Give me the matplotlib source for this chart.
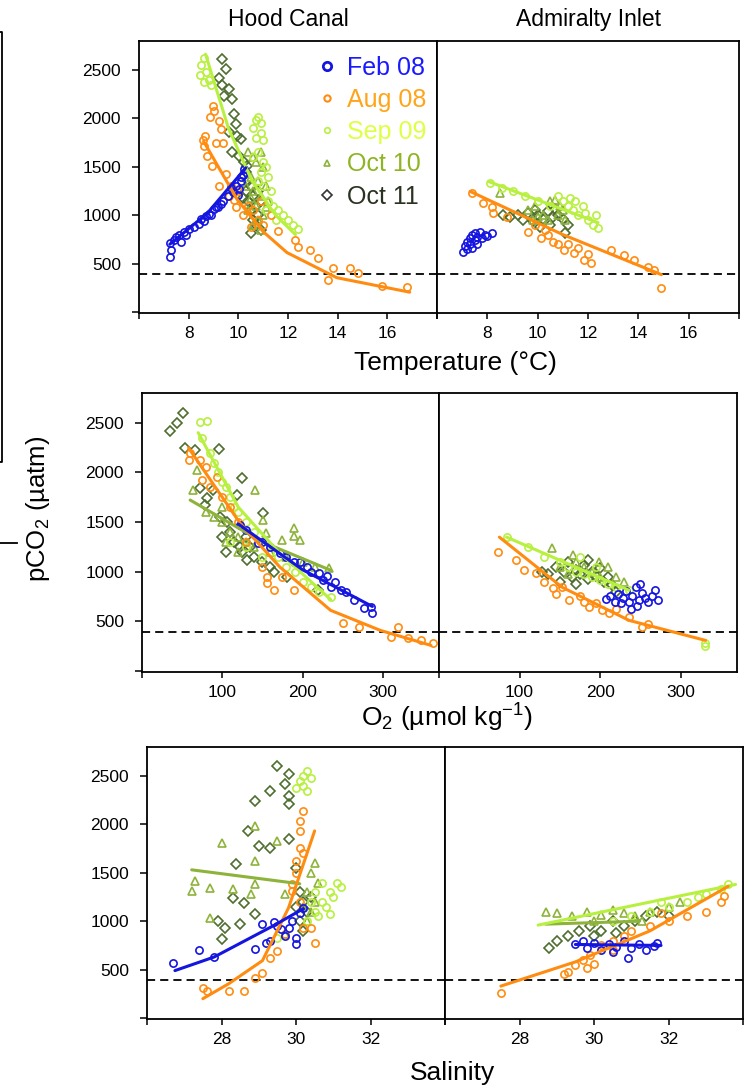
import numpy as np
import matplotlib
matplotlib.use("Agg")
import matplotlib.pyplot as plt
from matplotlib.lines import Line2D

plt.rcParams['font.family'] = ['Liberation Sans', 'DejaVu Sans']
plt.rcParams['mathtext.fontset'] = 'custom'
plt.rcParams['mathtext.rm'] = 'Liberation Sans'
plt.rcParams['mathtext.it'] = 'Liberation Sans:italic'
plt.rcParams['mathtext.default'] = 'regular'

# ---------------- series ----------------
series_names = ["Feb 08", "Aug 08", "Sep 09", "Oct 10", "Oct 11"]
series_markers = ["o", "o", "o", "^", "D"]
series_colors = ["#1515E0", "#FF8C10", "#B8F040", "#8DB33A", "#4E6E30"]
legend_text_colors = ["#1a1aff", "#FFA51A", "#DDFF45", "#8FB424", "#2A3322"]
atm_pco2 = 390

# ---------------- Hood Canal, Temperature ----------------
hc_t_feb = [(7.24,572),(7.3,645),(7.24,717),(7.4,740),(7.5,770),(7.6,800),(7.7,720),(7.8,830),(7.9,800),
            (8.0,860),(8.2,880),(8.4,910),(8.5,960),(8.6,940),(8.7,990),(8.8,1010),(8.9,1000),(9.0,1060),
            (9.1,1090),(9.2,1080),(9.3,1120),(9.4,1150),(9.6,1200),(9.7,1280),(9.8,1240),(9.9,1300),
            (10.0,1210),(10.1,1350),(10.2,1420),(10.24,1473),(10.1,1390),(10.04,1266)]
hc_t_aug = [(8.6,1712),(8.56,1780),(8.64,1817),(8.72,1610),(8.84,2010),(8.96,2125),(9.0,2080),(8.92,1505),
            (9.12,1748),(9.24,1971),(9.32,1888),(9.24,1298),(9.4,1750),(9.5,1430),(9.64,1194),(9.84,1160),
            (9.7,1300),(9.9,1080),(10.0,1250),(10.2,1000),(10.4,1100),(10.6,1050),(10.8,950),(10.5,880),
            (11.0,895),(11.3,1000),(11.6,832),(12.3,739),(12.4,677),(12.9,645),(13.2,562),(13.6,335),
            (13.8,459),(14.5,459),(14.8,407),(15.8,272),(16.8,262),(10.9,1150)]
hc_t_sep = [(8.45,2450),(8.5,2550),(8.6,2620),(8.7,2480),(8.8,2400),(8.9,2350),(8.6,2380),(10.6,1900),
            (10.7,1980),(10.8,2020),(10.9,1950),(10.7,1800),(10.9,1850),(11.0,1780),(10.6,1600),(10.8,1650),
            (11.0,1550),(11.1,1500),(10.9,1450),(11.2,1400),(11.0,1300),(11.3,1250),(11.2,1150),(11.4,1100),
            (11.6,1050),(11.8,1000),(12.0,950),(12.2,900),(12.4,860),(11.5,950),(11.1,1050),(10.8,1350)]
hc_t_oct10 = [(10.4,1650),(10.6,1600),(10.7,1550),(10.9,1650),(11.0,1500),(10.5,1400),(10.8,1350),(11.1,1300),
              (10.6,1250),(10.9,1200),(11.2,1150),(10.7,1100),(10.4,1050),(11.0,1000),(10.8,950),(10.6,900),
              (10.9,850),(11.1,1080),(10.5,1180),(10.3,1300)]
hc_t_oct11 = [(9.36,2612),(9.52,2510),(9.24,2422),(9.36,2350),(9.64,2300),(9.44,2230),(9.76,2198),(9.84,2043),
              (9.64,1855),(9.92,1939),(9.96,1817),(10.12,1785),(9.76,1650),(10.04,1610),(10.24,1546),
              (10.36,1505),(10.32,1443),(10.4,1350),(10.5,1300),(10.3,1250),(10.6,1200),(10.4,1150),
              (10.7,1100),(10.5,1050),(10.8,1000),(10.6,950),(10.7,900),(10.9,850),(10.5,820),(10.8,1250),
              (10.2,1180),(10.9,1150)]
hc_t_fit_feb = [(7.24,700),(8.75,1020),(10.3,1490)]
hc_t_fit_aug = [(8.6,1764),(9.96,1160),(11.0,830),(11.96,614),(13.96,355),(16.9,205)]
hc_t_fit_sep = [(8.68,2663),(9.6,1900),(10.56,1350),(11.5,1000),(12.3,800)]

# ---------------- Admiralty Inlet, Temperature ----------------
ai_t_feb = [(7.04,625),(7.1,680),(7.2,720),(7.3,700),(7.3,760),(7.4,800),(7.5,740),(7.5,820),(7.6,780),
            (7.7,830),(7.8,760),(7.9,800),(8.0,790),(8.2,820),(7.2,650),(7.6,700),(7.4,660)]
ai_t_aug = [(7.4,1233),(7.84,1131),(8.24,1027),(8.2,1090),(8.8,986),(9.6,831),(10.12,769),(10.4,800),
            (10.6,720),(10.8,700),(11.04,645),(11.2,700),(11.44,614),(11.6,660),(11.84,541),(12.12,510),
            (12.0,600),(12.92,645),(13.44,593),(13.84,541),(14.4,469),(14.64,438),(14.92,252),(9.9,900),(10.3,850)]
ai_t_sep = [(8.1,1330),(8.6,1280),(9.0,1250),(9.5,1200),(10.0,1150),(10.5,1100),(10.8,1200),(11.0,1150),
            (11.2,1100),(11.4,1050),(11.6,1000),(11.8,1100),(12.0,950),(12.2,900),(12.4,870),(11.5,1150),
            (11.9,1020),(12.3,1000),(11.3,1180)]
ai_t_oct10 = [(8.52,1233),(9.6,1050),(9.9,1100),(10.2,1000),(10.5,1150),(10.7,1160),(10.9,1100),(11.0,1050),
              (10.8,1000),(10.4,950),(11.1,950),(10.0,980),(9.8,950)]
ai_t_oct11 = [(8.64,1000),(8.9,980),(9.2,1000),(9.4,950),(9.6,1020),(9.8,940),(10.0,1000),(10.2,960),
              (10.4,1040),(10.6,980),(10.8,1000),(11.0,960),(11.2,900),(10.5,900),(10.1,880),(9.9,1050),
              (11.1,820),(10.7,1060)]
ai_t_fit_aug = [(7.32,1246),(11.0,800),(14.92,386)]
ai_t_fit_sep = [(8.04,1349),(12.4,924)]

# ---------------- Hood Canal, O2 ----------------
hc_o_feb = [(122,1470),(130,1420),(144,1288),(150,1300),(160,1247),(172,1187),(180,1150),(189,1096),(197,1096),
            (205,1050),(210,995),(220,985),(226,914),(235,843),(240,900),(248,813),(254,793),(264,712),
            (276,631),(287,581),(285,640),(230,960)]
hc_o_aug = [(58,2126),(72,2126),(75,1924),(80,2050),(93,1954),(110,1651),(100,1750),(120,1500),(130,1300),
            (150,1050),(156,944),(156,884),(164,813),(189,813),(175,950),(251,480),(270,440),(319,440),
            (310,338),(331,328),(347,308),(362,278),(60,2200),(85,1850)]
hc_o_sep = [(72,2510),(81,2520),(75,2350),(85,2200),(90,2100),(95,2000),(100,1900),(105,1850),(110,1750),
            (115,1650),(120,1600),(130,1500),(140,1400),(150,1300),(160,1200),(170,1150),(180,1050),
            (190,1000),(200,900),(210,850),(220,800),(235,750),(110,1300),(130,1250),(150,1150)]
hc_o_oct10 = [(64,1823),(68,2025),(141,1823),(151,1520),(154,1389),(175,1318),(189,1439),(189,1358),(197,1318),
              (233,1035),(80,1600),(100,1500),(110,1400),(120,1350),(130,1300),(100,1650),(90,1550),(140,1250),
              (160,1200),(180,1150),(200,1100),(215,1050),(120,1200),(105,1300)]
hc_o_oct11 = [(35,2418),(44,2500),(51,2600),(54,2247),(66,2230),(96,2237),(72,1843),(89,1823),(81,1742),
              (125,1944),(118,1772),(79,1671),(151,1590),(97,1550),(110,1399),(122,1247),(131,1116),(181,944),
              (219,813),(164,995),(106,1500),(100,1350),(115,1300),(125,1200),(135,1250),(140,1150),(150,1100),
              (160,1050),(105,1200),(130,1350)]
hc_o_fit_feb = [(120,1480),(200,1020),(287,650)]
hc_o_fit_aug = [(58,2247),(122,1490),(172,1045),(235,611),(297,409),(360,258)]
hc_o_fit_sep = [(70,2400),(120,1650),(170,1200),(235,720)]
hc_o_fit_oct10 = [(60,1722),(150,1300),(235,1015)]

# ---------------- Admiralty Inlet, O2 ----------------
ai_o_feb = [(207,730),(212,760),(218,700),(222,780),(228,740),(232,810),(236,700),(240,760),(244,850),(248,720),
            (252,790),(256,740),(260,700),(264,760),(268,820),(272,720),(246,650),(238,620),(226,680),(250,880)]
ai_o_aug = [(73,1196),(96,1116),(106,1015),(121,985),(141,833),(153,850),(162,712),(175,760),(186,641),(203,611),
            (211,581),(220,620),(236,540),(252,440),(260,470),(180,700),(195,680),(130,900),(145,780)]
ai_o_sep = [(84,1348),(110,1250),(130,1150),(150,1100),(160,1050),(170,1000),(180,980),(190,950),(200,920),
            (210,880),(220,850),(236,813),(175,1150),(195,1050),(330,280),(330,250)]
ai_o_oct10 = [(140,1237),(166,1166),(199,1095),(150,1050),(170,1100),(180,1050),(190,1000),(210,1050),(220,950),
              (160,980),(200,950),(230,900)]
ai_o_oct11 = [(128,1000),(135,980),(145,1050),(155,1000),(160,1100),(165,950),(170,1020),(175,980),(180,1070),
              (185,930),(190,1000),(195,960),(200,1040),(205,900),(210,950),(215,870),(220,800),(150,900),
              (170,880),(185,1115)]
ai_o_fit_aug = [(75,1348),(153,843),(236,510),(331,308)]
ai_o_fit_sep = [(84,1348),(236,813)]

# ---------------- Hood Canal, Salinity ----------------
hc_s_feb = [(26.7,572),(27.4,706),(27.8,634),(28.9,716),(29.1,974),(29.4,995),(29.5,953),(29.6,920),(29.8,933),
            (29.2,778),(29.3,800),(30.0,768),(30.0,830),(30.1,1088),(30.2,1139),(29.7,850),(29.9,1000)]
hc_s_aug = [(27.5,314),(27.6,280),(28.2,283),(28.6,283),(28.9,418),(29.1,469),(29.3,624),(29.5,696),(29.7,871),
            (29.9,1314),(29.9,1383),(30.0,1624),(30.1,1758),(30.1,1933),(30.1,2036),(30.2,2139),(30.2,933),
            (30.4,933),(30.5,778),(30.0,1500),(30.2,1700),(30.1,1200)]
hc_s_sep = [(30.0,2376),(30.1,2450),(30.2,2500),(30.3,2552),(30.4,2480),(30.2,2400),(30.3,2350),(30.3,1000),
            (30.5,1100),(30.7,1200),(30.9,1300),(31.0,1250),(31.2,1350),(30.6,1050),(30.8,1150),(30.4,1200),
            (31.1,1400),(30.5,1300),(30.7,1400),(29.5,830),(30.9,1077)]
hc_s_oct10 = [(28.0,1809),(27.2,1314),(27.7,1345),(28.3,1335),(28.8,1283),(28.9,1387),(28.9,1624),(28.9,1985),
              (27.3,1417),(29.5,1830),(27.7,1036),(29.7,1283),(29.7,871),(30.3,1000),(30.4,1100),(30.5,1200),
              (30.3,1300),(30.6,1400),(30.4,1500),(30.5,1600),(30.2,1150)]
hc_s_oct11 = [(29.5,2603),(29.8,2521),(29.7,2418),(29.3,2345),(28.9,2242),(29.8,2294),(29.8,2211),(28.7,1933),
              (29.0,1778),(29.3,1758),(29.8,1850),(28.4,1593),(28.3,1242),(28.6,1191),(27.9,1005),(28.1,933),
              (28.0,820),(28.5,974),(28.9,1077),(30.0,1551),(30.1,1300),(30.2,1200),(30.3,1100),(30.1,1000),
              (30.2,900),(30.4,1250),(30.0,1150)]
hc_s_fit_feb = [(26.75,490),(27.8,630),(29.4,955),(30.2,1130)]
hc_s_fit_aug = [(27.5,200),(28.2,356),(29.1,593),(29.8,1139),(30.5,1933)]
hc_s_fit_oct10 = [(27.2,1531),(30.1,1387)]

# ---------------- Admiralty Inlet, Salinity ----------------
ai_s_feb = [(29.5,760),(29.8,720),(30.0,780),(30.2,700),(30.4,760),(30.6,730),(30.8,800),(31.0,720),(31.2,760),
            (31.4,700),(31.6,740),(31.7,780),(30.5,680),(29.7,800),(30.9,620)]
ai_s_aug = [(27.5,263),(29.2,450),(29.3,480),(29.5,550),(29.7,600),(29.9,650),(30.0,560),(30.2,750),(30.5,800),
            (30.8,850),(31.0,900),(31.5,950),(32.0,1000),(32.5,1050),(33.0,1100),(33.4,1200),(31.8,1080),
            (30.5,700),(29.8,520),(33.5,1260)]
ai_s_sep = [(30.5,1000),(31.0,1050),(31.5,1100),(32.0,1150),(32.5,1200),(33.0,1280),(33.4,1330),(31.8,1200),
            (32.8,1250),(33.6,1380)]
ai_s_oct10 = [(28.7,1100),(29.0,1080),(29.4,1050),(29.8,1100),(30.2,1060),(30.5,1120),(30.8,1080),(31.1,1050),
              (31.5,1100),(32.0,1150),(32.3,1200),(30.0,1000),(31.3,1000)]
ai_s_oct11 = [(28.8,720),(29.0,800),(29.3,850),(29.6,900),(29.9,950),(30.2,900),(30.5,1000),(30.8,950),
              (31.1,1000),(31.4,1050),(31.7,1100),(32.0,1050),(30.0,850),(30.6,880)]
ai_s_fit_feb = [(29.5,760),(31.8,750)]
ai_s_fit_aug = [(27.5,330),(29.5,580),(31.5,900),(33.6,1360)]
ai_s_fit_sep = [(28.5,960),(33.8,1380)]
ai_s_fit_oct10 = [(28.7,970),(31.2,1000)]

# ---------------- axes texts ----------------
site_titles = ["Hood Canal", "Admiralty Inlet"]
x_labels = ["Temperature (°C)", "O$_2$ (µmol kg$^{-1}$)", "Salinity"]
y_label = "pCO$_2$ (µatm)"
x_limits = [(6, 18), (0, 370), (26, 34)]
x_ticks = [[6, 8, 10, 12, 14, 16, 18], [0, 100, 200, 300], [26, 28, 30, 32, 34]]
x_ticklabels = [["", "8", "10", "12", "14", "16", ""], ["", "100", "200", "300"], ["", "28", "30", "32", ""]]
y_ticks = [0, 500, 1000, 1500, 2000, 2500]
y_ticklabels = ["", "500", "1000", "1500", "2000", "2500"]
y_limits = (-10, 2800)

panel_points = [
    [[hc_t_feb, hc_t_aug, hc_t_sep, hc_t_oct10, hc_t_oct11], [ai_t_feb, ai_t_aug, ai_t_sep, ai_t_oct10, ai_t_oct11]],
    [[hc_o_feb, hc_o_aug, hc_o_sep, hc_o_oct10, hc_o_oct11], [ai_o_feb, ai_o_aug, ai_o_sep, ai_o_oct10, ai_o_oct11]],
    [[hc_s_feb, hc_s_aug, hc_s_sep, hc_s_oct10, hc_s_oct11], [ai_s_feb, ai_s_aug, ai_s_sep, ai_s_oct10, ai_s_oct11]],
]
panel_fits = [
    [[hc_t_fit_feb, hc_t_fit_aug, hc_t_fit_sep, None, None], [None, ai_t_fit_aug, ai_t_fit_sep, None, None]],
    [[hc_o_fit_feb, hc_o_fit_aug, hc_o_fit_sep, hc_o_fit_oct10, None], [None, ai_o_fit_aug, ai_o_fit_sep, None, None]],
    [[hc_s_fit_feb, hc_s_fit_aug, None, hc_s_fit_oct10, None], [ai_s_fit_feb, ai_s_fit_aug, ai_s_fit_sep, ai_s_fit_oct10, None]],
]

W, H = 745, 1087
fig = plt.figure(figsize=(W / 100, H / 100), dpi=100)

# pixel geometry of rows: (left, divider, right, top, bottom)
rows_px = [(139, 437, 739, 41, 313), (142, 439, 737, 393, 672), (147, 445, 743, 747, 1019)]

draw_order = [4, 3, 2, 1, 0]
for r, (l, d, rr, t, b) in enumerate(rows_px):
    for c in range(2):
        x0 = l if c == 0 else d
        x1 = d if c == 0 else rr
        ax = fig.add_axes([x0 / W, 1 - b / H, (x1 - x0) / W, (b - t) / H])
        ax.set_xlim(*x_limits[r])
        ax.set_ylim(*y_limits)
        ax.axhline(atm_pco2, color="black", lw=1.3, ls=(0, (4.5, 2.8)), zorder=1)
        for k in draw_order:
            pts = panel_points[r][c][k]
            xs = [p[0] for p in pts]
            ys = [p[1] for p in pts]
            ax.plot(xs, ys, ls="none", marker=series_markers[k], ms=5.2 if k != 4 else 5,
                    mfc="none", mec=series_colors[k], mew=1.2, zorder=2 + (4 - k) * 0.1)
        for k in draw_order:
            fit = panel_fits[r][c][k]
            if fit is None:
                continue
            ax.plot([p[0] for p in fit], [p[1] for p in fit], color=series_colors[k], lw=2.2,
                    solid_capstyle="round", zorder=3)
        ax.set_xticks(x_ticks[r])
        ax.set_xticklabels(x_ticklabels[r], fontsize=12.5)
        ax.set_yticks(y_ticks)
        if c == 0:
            ax.set_yticklabels(y_ticklabels, fontsize=12.5)
            ax.tick_params(axis="y", direction="out", length=5, width=1.1, pad=8)
        else:
            ax.tick_params(axis="y", left=False, labelleft=False)
        ax.tick_params(axis="x", direction="out", length=4, width=1.1, pad=5.5)
        for s in ax.spines.values():
            s.set_linewidth(1.3)
            s.set_color("black")
        if r == 0:
            ax.set_title(site_titles[c], fontsize=16.5, pad=11)
        if r == 0 and c == 0:
            handles = [Line2D([], [], ls="none", marker=series_markers[k], ms=[6, 4.5, 4, 4, 5][k],
                              mfc="none", mec=series_colors[k] if k != 4 else "#333333", mew=[2, 1.5, 1.2, 1.2, 1.2][k])
                       for k in range(5)]
            leg = ax.legend(handles, series_names, loc="upper left", bbox_to_anchor=(0.597, 0.946),
                            frameon=False, fontsize=18, handlelength=0.8, handletextpad=0.4,
                            labelspacing=0.33, borderpad=0, borderaxespad=0)
            for txt, col in zip(leg.get_texts(), legend_text_colors):
                txt.set_color(col)

# axis labels
fig.text(455 / W, 1 - 363 / H, x_labels[0], ha="center", va="center", fontsize=19)
fig.text(447 / W, 1 - 718 / H, x_labels[1], ha="center", va="center", fontsize=19)
fig.text(452 / W, 1 - 1073 / H, x_labels[2], ha="center", va="center", fontsize=19)
fig.text(38 / W, 1 - 509 / H, y_label, ha="center", va="center", rotation=90, fontsize=18.5)

# stray frame lines visible at the left edge of the source image
fig.add_artist(Line2D([0, 2 / W, 2 / W, 0], [1 - 32 / H, 1 - 32 / H, 1 - 462 / H, 1 - 462 / H],
                      color="black", lw=1.3))
fig.add_artist(Line2D([0, 17 / W], [1 - 543 / H, 1 - 543 / H], color="black", lw=1.3))

fig.savefig("out.png", dpi=100, facecolor="white")
